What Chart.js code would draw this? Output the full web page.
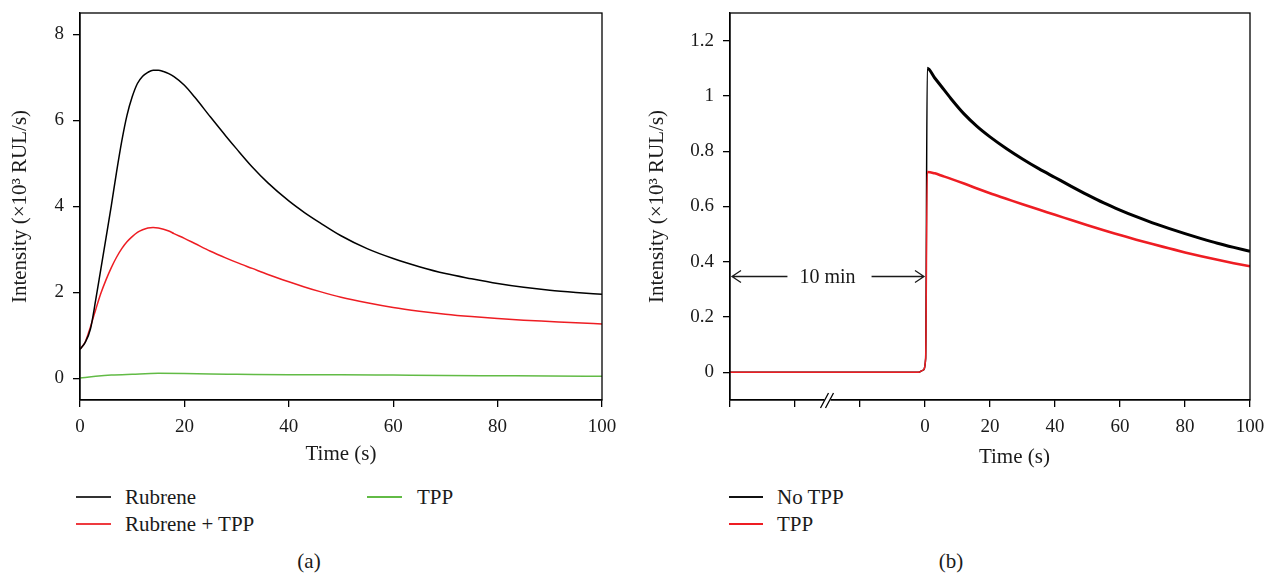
<!DOCTYPE html>
<html><head><meta charset="utf-8">
<script src="https://cdn.jsdelivr.net/npm/chart.js@4.4.1/dist/chart.umd.min.js"></script>
<style>
body{margin:0;background:#fff;width:1266px;height:573px;position:relative;overflow:hidden;font-family:"Liberation Serif",serif;color:#1a1a1a;}
canvas{position:absolute;top:0;}
#ca{left:0} #cb{left:633px}
.lg{position:absolute;font-size:21px;line-height:20px;white-space:nowrap}
.ln{position:absolute;height:1.6px}
.cap{position:absolute;font-size:21px;line-height:20px;width:60px;text-align:center}
</style></head><body>
<canvas id="ca" width="633" height="470"></canvas>
<canvas id="cb" width="633" height="470"></canvas>

<div class="ln" style="left:76px;top:496px;width:35px;background:#333"></div>
<div class="lg" style="left:125px;top:487px">Rubrene</div>
<div class="ln" style="left:76px;top:523px;width:35px;background:#ee3a3f"></div>
<div class="lg" style="left:125px;top:514px">Rubrene + TPP</div>
<div class="ln" style="left:367px;top:496px;width:35px;background:#62bb46"></div>
<div class="lg" style="left:417px;top:487px">TPP</div>
<div class="cap" style="left:279px;top:551px">(a)</div>

<div class="ln" style="left:729px;top:496px;width:34px;background:#111"></div>
<div class="lg" style="left:777px;top:487px">No TPP</div>
<div class="ln" style="left:729px;top:523px;width:34px;background:#ee1d23"></div>
<div class="lg" style="left:777px;top:514px">TPP</div>
<div class="cap" style="left:921px;top:551px">(b)</div>

<script>
// ---------- Panel (a) data ----------
const timeA = [0,1,2,3,4,5,6,7,8,9,10,11,12,13,14,15,16,17,18,20,22,25,28,30,33,36,40,43,46,50,55,60,65,70,75,80,85,90,95,100];
const rubrene = [0.68,0.84,1.15,1.82,2.55,3.28,4.02,4.8,5.52,6.12,6.55,6.86,7.03,7.12,7.17,7.17,7.14,7.09,7.02,6.82,6.54,6.08,5.63,5.34,4.92,4.55,4.13,3.86,3.62,3.32,3.02,2.79,2.6,2.44,2.32,2.21,2.12,2.05,2.0,1.96];
const rubreneTPP = [0.68,0.85,1.2,1.6,1.98,2.3,2.58,2.82,3.02,3.18,3.3,3.4,3.46,3.5,3.51,3.5,3.47,3.43,3.37,3.26,3.14,2.96,2.8,2.7,2.56,2.42,2.25,2.13,2.02,1.89,1.76,1.65,1.565,1.495,1.44,1.395,1.355,1.325,1.295,1.27];
const timeG = [0,3,6,10,15,20,25,30,40,50,60,70,80,90,100];
const tppA = [0.01,0.05,0.08,0.1,0.12,0.115,0.105,0.1,0.09,0.09,0.08,0.07,0.065,0.06,0.05];
const xTicksA = [0,20,40,60,80,100];
const yTicksA = [0,2,4,6,8];

// ---------- Panel (b) data ----------
const timeB = [-60,-2,-0.6,0.2,0.7,3,5,8,12,16,20,25,30,35,40,45,50,55,60,65,70,75,80,85,90,95,100];
const noTPP = [0,0,0.008,0.05,1.10,1.065,1.035,0.99,0.935,0.89,0.852,0.81,0.772,0.737,0.705,0.673,0.642,0.613,0.587,0.563,0.541,0.521,0.502,0.484,0.467,0.452,0.438];
const tppB = [0,0,0.008,0.05,0.725,0.72,0.712,0.70,0.683,0.665,0.648,0.628,0.608,0.589,0.57,0.551,0.532,0.514,0.497,0.48,0.464,0.449,0.434,0.42,0.407,0.395,0.384];
const xTicksB = [-60,-40,-20,0,20,40,60,80,100];
const yTicksB = [0,0.2,0.4,0.6,0.8,1,1.2];
const yTickLabelsB = ['0','0.2','0.4','0.6','0.8','1','1.2'];
const arrowLevel = 0.35;   // y value of the "10 min" arrow
const breakAt = -30;       // x value of the axis break
const arrowLabel = '10 min';

const pts = (xs, ys) => xs.map((x, i) => ({x, y: ys[i]}));
const TXT = '#1a1a1a';
const tickFont = {family: 'Liberation Serif', size: 19};
const titleFont = {family: 'Liberation Serif', size: 21};

const framePlugin = {
  id: 'frame',
  afterDraw(chart) {
    const {ctx, chartArea: a} = chart;
    ctx.save();
    ctx.strokeStyle = '#000';
    ctx.lineWidth = 1.3;
    ctx.strokeRect(a.left, a.top, a.right - a.left, a.bottom - a.top);
    ctx.restore();
  }
};

function commonScales(xMin, xMax, yMin, yMax, xTicks, yTicks, yLabel, xTitle, yTitlePad, yWidth) {
  return {
    x: {
      type: 'linear', min: xMin, max: xMax,
      afterBuildTicks: s => { s.ticks = xTicks.map(v => ({value: v})); },
      afterFit: s => { s.height = 70; s.paddingLeft = 0; s.paddingRight = 0; },
      border: {color: '#000', width: 1.3},
      grid: {drawOnChartArea: false, drawTicks: true, tickLength: 7, color: '#000', lineWidth: 1.3},
      ticks: {font: tickFont, color: TXT, padding: 9, maxRotation: 0, autoSkip: false,
              callback: v => (v < 0 ? '' : String(v))},
      title: {display: xTitle, text: 'Time (s)', font: titleFont, color: TXT, padding: {top: 0, bottom: 3}}
    },
    y: {
      type: 'linear', min: yMin, max: yMax,
      afterBuildTicks: s => { s.ticks = yTicks.map(v => ({value: v})); },
      afterFit: s => { s.width = yWidth; s.paddingTop = 0; s.paddingBottom = 0; },
      border: {color: '#000', width: 1.3},
      grid: {drawOnChartArea: false, drawTicks: true, tickLength: 7, color: '#000', lineWidth: 1.3},
      ticks: {font: tickFont, color: TXT, padding: 9, autoSkip: false, callback: yLabel},
      title: {display: true, text: 'Intensity (×10³ RUL/s)', font: titleFont, color: TXT, padding: {top: yTitlePad, bottom: 0}}
    }
  };
}

// ---------- Chart (a) ----------
new Chart(document.getElementById('ca'), {
  type: 'line',
  data: {datasets: [
    {label: 'Rubrene', data: pts(timeA, rubrene), borderColor: '#000', borderWidth: 1.5},
    {label: 'Rubrene + TPP', data: pts(timeA, rubreneTPP), borderColor: '#ee1d23', borderWidth: 1.5},
    {label: 'TPP', data: pts(timeG, tppA), borderColor: '#62bb46', borderWidth: 1.5}
  ]},
  options: {
    responsive: false, animation: false, devicePixelRatio: 1,
    layout: {padding: {top: 13, right: 31, left: 0, bottom: 0}},
    elements: {point: {radius: 0}, line: {cubicInterpolationMode: 'monotone'}},
    plugins: {legend: {display: false}, tooltip: {enabled: false}},
    scales: commonScales(0, 100, -0.5, 8.5, xTicksA, yTicksA, v => String(v), true, 8, 80)
  },
  plugins: [framePlugin]
});

// ---------- Chart (b) ----------
const annotPlugin = {
  id: 'annot',
  afterDraw(chart) {
    const {ctx, chartArea: a, scales: {x, y}} = chart;
    ctx.save();
    ctx.strokeStyle = '#1a1a1a';
    ctx.fillStyle = TXT;
    ctx.lineWidth = 1.3;
    const ay = Math.round(y.getPixelForValue(arrowLevel)) + 0.5;
    const x0 = x.getPixelForValue(-60) + 2, x1 = x.getPixelForValue(0) - 1;
    const xc = x.getPixelForValue(breakAt);
    ctx.font = '20px "Liberation Serif"';
    const tw = ctx.measureText(arrowLabel).width;
    ctx.beginPath();
    ctx.moveTo(x0, ay); ctx.lineTo(xc - tw / 2 - 12, ay);
    ctx.moveTo(xc + tw / 2 + 16, ay); ctx.lineTo(x1, ay);
    ctx.moveTo(x0 + 9, ay - 6); ctx.lineTo(x0, ay); ctx.lineTo(x0 + 9, ay + 6);
    ctx.moveTo(x1 - 9, ay - 6); ctx.lineTo(x1, ay); ctx.lineTo(x1 - 9, ay + 6);
    ctx.stroke();
    ctx.textAlign = 'center'; ctx.textBaseline = 'middle';
    ctx.fillText(arrowLabel, xc, ay + 1);
    // axis break
    const by = a.bottom;
    ctx.fillStyle = '#fff';
    ctx.fillRect(xc - 3, by - 2, 6, 4);
    ctx.strokeStyle = '#000';
    ctx.beginPath();
    ctx.moveTo(xc - 7, by + 8); ctx.lineTo(xc + 1, by - 7);
    ctx.moveTo(xc - 2, by + 8); ctx.lineTo(xc + 6, by - 7);
    ctx.stroke();
    // x title
    ctx.fillStyle = TXT;
    ctx.font = '21px "Liberation Serif"';
    ctx.textBaseline = 'middle';
    ctx.fillText('Time (s)', x.getPixelForValue(27.5), 457);
    ctx.restore();
  }
};

const segW = w0 => ctx => (ctx.p0.parsed.x >= 0.7 ? w0 : 1.5);
new Chart(document.getElementById('cb'), {
  type: 'line',
  data: {datasets: [
    {label: 'No TPP', data: pts(timeB, noTPP), borderColor: '#000', borderWidth: 3, order: 1, segment: {borderWidth: segW(3)}},
    {label: 'TPP', data: pts(timeB, tppB), borderColor: '#ee1d23', borderWidth: 2.6, order: 0, segment: {borderWidth: segW(2.6)}}
  ]},
  options: {
    responsive: false, animation: false, devicePixelRatio: 1,
    layout: {padding: {top: 13, right: 16, left: 0, bottom: 0}},
    elements: {point: {radius: 0}, line: {cubicInterpolationMode: 'monotone'}},
    plugins: {legend: {display: false}, tooltip: {enabled: false}},
    scales: commonScales(-60, 100, -0.1, 1.3, xTicksB, yTicksB, (v, i) => yTickLabelsB[i], false, 12, 97)
  },
  plugins: [framePlugin, annotPlugin]
});
</script>
</body></html>
